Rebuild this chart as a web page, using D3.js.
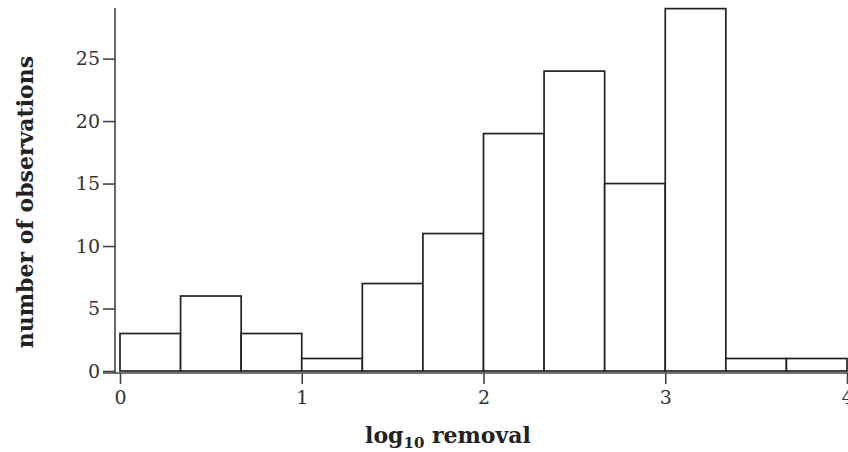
<!DOCTYPE html>
<html>
<head>
<meta charset="utf-8">
<script src="https://cdn.jsdelivr.net/npm/d3@7"></script>
<style>
  body { margin: 0; background: #fff; }
  .axis text { font-family: "DejaVu Serif", serif; font-size: 19px; fill: #333; }
  .axis path, .axis line { stroke: #444; stroke-width: 1.6; }
  .label { font-family: "DejaVu Serif", serif; font-weight: bold; fill: #222; }
</style>
</head>
<body>
<div id="chart"></div>
<script>
// histogram of log10 removal, bins of width 1/3
const binStarts = [0, 1/3, 2/3, 1, 4/3, 5/3, 2, 7/3, 8/3, 3, 10/3, 11/3]
const counts = [3, 6, 3, 1, 7, 11, 19, 24, 15, 29, 1, 1]
const binWidth = 1 / 3
const xTicks = [0, 1, 2, 3, 4]
const yTicks = [0, 5, 10, 15, 20, 25]

const width = 848, height = 452

const svg = d3.select('#chart').append('svg')
    .attr('width', width)
    .attr('height', height)

const xScale = d3.scaleLinear()
    .domain([0, 4])
    .range([120, 847])

const yScale = d3.scaleLinear()
    .domain([0, 29.05])
    .range([371, 8])

// bars
svg.append('g')
  .selectAll('rect')
  .data(counts)
  .enter()
    .append('rect')
    .attr('x', (_, i) => xScale(binStarts[i]))
    .attr('width', (_, i) => xScale(binStarts[i] + binWidth) - xScale(binStarts[i]))
    .attr('y', d => yScale(d))
    .attr('height', d => yScale(0) - yScale(d))
    .attr('fill', '#fff')
    .attr('stroke', '#222')
    .attr('stroke-width', 1.7)

// y axis
const yAxisScale = yScale.copy().range([373, 8])
const yAxis = d3.axisLeft(yScale)
    .tickValues(yTicks)
    .tickSize(12)
    .tickSizeOuter(0)
    .tickPadding(3)

const gy = svg.append('g')
    .attr('class', 'axis')
    .attr('transform', 'translate(115,0)')
    .call(yAxis)
gy.select('.domain').attr('d', 'M0,' + yAxisScale.range()[0] + 'V' + yAxisScale.range()[1])

// x axis
const xAxis = d3.axisBottom(xScale)
    .tickValues(xTicks)
    .tickFormat(d3.format('d'))
    .tickSize(11)
    .tickSizeOuter(0)
    .tickPadding(7)

const gx = svg.append('g')
    .attr('class', 'axis')
    .attr('transform', 'translate(0,373)')
    .call(xAxis)
gx.select('.domain').attr('d', 'M103,0H848')

// axis labels
const xLabel = svg.append('text')
    .attr('class', 'label')
    .attr('x', 448)
    .attr('y', 443)
    .attr('text-anchor', 'middle')
    .style('font-size', '22px')
xLabel.append('tspan').text('log')
xLabel.append('tspan').text('10').attr('dy', 5).style('font-size', '15px')
xLabel.append('tspan').text(' removal').attr('dy', -5)

svg.append('text')
    .attr('class', 'label')
    .attr('transform', 'translate(33,202) rotate(-90)')
    .attr('text-anchor', 'middle')
    .style('font-size', '22px')
    .text('number of observations')
</script>
</body>
</html>
